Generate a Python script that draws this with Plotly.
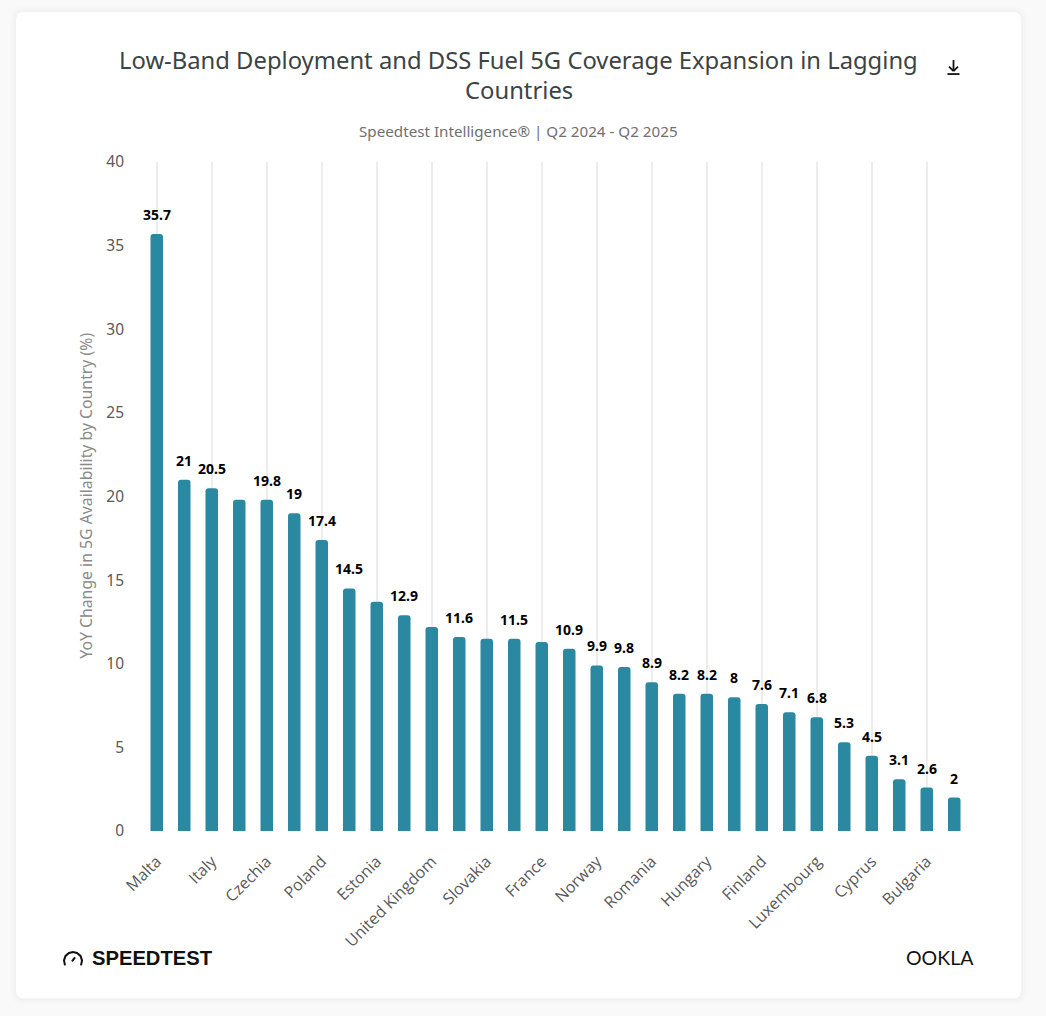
import plotly.graph_objects as go

categories = ["Malta", "Unlabelled 1", "Italy", "Unlabelled 2", "Czechia", "Unlabelled 3", "Poland", "Unlabelled 4",
              "Estonia", "Unlabelled 5", "United Kingdom", "Unlabelled 6", "Slovakia", "Unlabelled 7", "France",
              "Unlabelled 8", "Norway", "Unlabelled 9", "Romania", "Unlabelled 10", "Hungary", "Unlabelled 11",
              "Finland", "Unlabelled 12", "Luxembourg", "Unlabelled 13", "Cyprus", "Unlabelled 14", "Bulgaria",
              "Unlabelled 15"]
values = [35.7, 21, 20.5, 19.8, 19.8, 19, 17.4, 14.5, 13.7, 12.9, 12.2, 11.6, 11.5, 11.5, 11.3, 10.9, 9.9, 9.8,
          8.9, 8.2, 8.2, 8, 7.6, 7.1, 6.8, 5.3, 4.5, 3.1, 2.6, 2]
hidden_labels = [3, 8, 10, 12, 14]
title_lines = ["Low-Band Deployment and DSS Fuel 5G Coverage Expansion in Lagging", "Countries"]
subtitle = "Speedtest Intelligence® | Q2 2024 - Q2 2025"
y_title = "YoY Change in 5G Availability by Country (%)"

W, H = 1046, 1016
L, R, T, B = 143, 968, 162, 831.5
def px(x): return (x - L) / (R - L)
def py(y): return (B - y) / (B - T)

fig = go.Figure(go.Bar(x=categories, y=values, marker=dict(color="#2a89a1", cornerradius=3, line_width=0),
                       hovertemplate="%{x}: %{y}<extra></extra>"))

anns = []
for i, (c, v) in enumerate(zip(categories, values)):
    if i in hidden_labels:
        continue
    anns.append(dict(x=c, y=v, xref="x", yref="y", text=str(v), showarrow=False, yanchor="bottom", yshift=8,
                     font=dict(family="Noto Sans", size=14, color="#000000", weight="bold")))

def note(x, y, text, size, color, family="Noto Sans", xanchor="center", **kw):
    anns.append(dict(x=px(x), y=py(y), xref="paper", yref="paper", text=text, showarrow=False,
                     xanchor=xanchor, yanchor="middle", font=dict(family=family, size=size, color=color), **kw))

note(518.5, 60, title_lines[0], 23.8, "#3c4443")
note(518.5, 90, title_lines[1], 23.8, "#3c4443")
note(518.5, 131, subtitle, 15.2, "#6f6f6f")
note(86, 496, y_title, 15.8, "#8a8a8a", textangle=-90)
note(90, 959, "<b>SPEEDTEST</b>", 20.2, "#111111", family="Liberation Sans", xanchor="left")
note(904, 958, "OOKLA", 19.5, "#111111", family="Lato", xanchor="left")

def rounded(x0, y0, x1, y1, r):
    a0, a1, b0, b1 = px(x0), px(x1), py(y0), py(y1)
    rx, ry = r / (R - L), r / (B - T)
    return (f"M{a0+rx},{b0} L{a1-rx},{b0} Q{a1},{b0} {a1},{b0-ry} L{a1},{b1+ry} Q{a1},{b1} {a1-rx},{b1} "
            f"L{a0+rx},{b1} Q{a0},{b1} {a0},{b1+ry} L{a0},{b0-ry} Q{a0},{b0} {a0+rx},{b0} Z")

shapes = []
for grow, op in [(6, 0.006), (4, 0.008), (2, 0.012)]:
    shapes.append(dict(type="path", xref="paper", yref="paper", layer="below", line_width=0,
                       fillcolor=f"rgba(0,0,0,{op})", path=rounded(16 - grow, 12 - grow, 1021 + grow, 999 + grow, 8 + grow)))
shapes.append(dict(type="path", xref="paper", yref="paper", layer="below", line_width=0, fillcolor="#ffffff",
                   path=rounded(16, 12, 1021, 999, 8)))
# download icon
for (x0, y0, x1, y1) in [(953.5, 60, 953.5, 71), (949, 66.5, 953.5, 71), (958, 66.5, 953.5, 71), (947.5, 74, 959.5, 74)]:
    shapes.append(dict(type="line", xref="paper", yref="paper", x0=px(x0), y0=py(y0), x1=px(x1), y1=py(y1),
                       line=dict(color="#111111", width=1.8)))
# Speedtest gauge glyph
def arc(points):
    return "M" + " L".join(f"{px(a)},{py(b)}" for a, b in points)
shapes.append(dict(type="path", xref="paper", yref="paper", line=dict(color="#111111", width=2),
                   path=arc([(65, 966), (64, 961), (65.5, 956.5), (69, 953.5), (73, 952.5), (77, 953.5), (80.5, 956.5),
                             (82, 961), (81, 966)])))
shapes.append(dict(type="line", xref="paper", yref="paper", x0=px(72), y0=py(962), x1=px(75), y1=py(958),
                   line=dict(color="#111111", width=2)))

fig.update_layout(
    width=W, height=H, autosize=False, showlegend=False,
    margin=dict(l=L, r=W - R, t=T, b=H - B, pad=0),
    paper_bgcolor="#f9f9f9", plot_bgcolor="rgba(0,0,0,0)",
    bargap=0.545, annotations=anns, shapes=shapes,
    font=dict(family="Noto Sans"),
    xaxis=dict(type="category", categoryorder="array", categoryarray=categories, tickmode="linear", tick0=0, dtick=2,
               range=[-0.5, 29.5],
               tickangle=-45, showgrid=True, gridcolor="#ececec", gridwidth=1.5, showline=False, ticks="",
               ticklabelstandoff=17, tickfont=dict(family="Open Sans", size=16, color="#595959")),
    yaxis=dict(range=[0, 40], dtick=5, showgrid=False, zeroline=False, showline=False, ticks="",
               ticklabelstandoff=18, tickfont=dict(family="Noto Sans", size=15.5, color="#595959")),
)
fig.write_html("out.html", include_plotlyjs=True, config=dict(displayModeBar=False),
               post_script="document.body.style.margin='0';document.body.style.overflow='hidden';")
